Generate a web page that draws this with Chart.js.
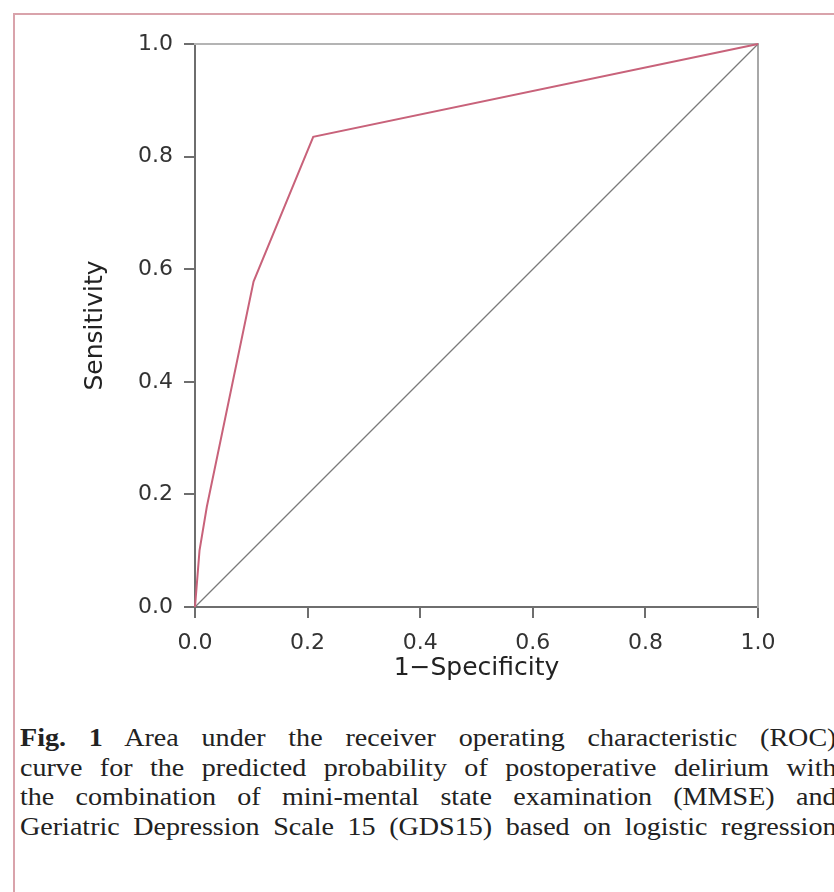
<!DOCTYPE html>
<html>
<head>
<meta charset="utf-8">
<script src="https://cdn.jsdelivr.net/npm/chart.js@4/dist/chart.umd.min.js"></script>
<style>
  html, body { margin: 0; padding: 0; background: #fff; width: 834px; height: 892px; overflow: hidden; }
  #frame { position: absolute; left: 13px; top: 13px; width: 900px; height: 900px; border: 2px solid #d9a3ab; box-sizing: border-box; }
  #wrap { position: absolute; left: 0; top: 0; width: 834px; height: 700px; }
  #caption { position: absolute; left: 20px; top: 723px; width: 756px; transform: scaleX(1.08); transform-origin: 0 0;
             font-family: "Liberation Serif", "Times New Roman", serif; font-size: 26px; line-height: 29.5px; color: #222; }
  #caption div { text-align: justify; text-align-last: justify; white-space: nowrap; }
</style>
</head>
<body>
<div id="frame"></div>
<div id="wrap"><canvas id="c" width="834" height="700"></canvas></div>
<div id="caption">
  <div><b>Fig. 1</b> Area under the receiver operating characteristic (ROC)</div>
  <div>curve for the predicted probability of postoperative delirium with</div>
  <div>the combination of mini-mental state examination (MMSE) and</div>
  <div>Geriatric Depression Scale 15 (GDS15) based on logistic regression</div>
</div>
<script>
// ROC curve (1 - specificity vs sensitivity)
const fpr = [0, 0.008, 0.021, 0.104, 0.21, 1.0];
const tpr = [0, 0.10, 0.178, 0.578, 0.835, 1.0];
// reference (chance) diagonal
const diagX = [0, 1];
const diagY = [0, 1];
// tick labels
const xTicks = ["0.0", "0.2", "0.4", "0.6", "0.8", "1.0"];
const yTicks = ["0.0", "0.2", "0.4", "0.6", "0.8", "1.0"];
const xTitle = "1\u2212Specificity";
const yTitle = "Sensitivity";

const toPts = (xs, ys) => xs.map((x, i) => ({ x: x, y: ys[i] }));
const tickFont = { family: "DejaVu Sans", size: 22 };
const titleFont = { family: "DejaVu Sans", size: 25 };
const axisColor = "#6e6e6e";

new Chart(document.getElementById("c"), {
  type: "scatter",
  data: {
    datasets: [
      { data: toPts(fpr, tpr), showLine: true, borderColor: "#c8627a", borderWidth: 2, pointRadius: 0, tension: 0, clip: 4 },
      { data: toPts(diagX, diagY), showLine: true, borderColor: "#7a7a7a", borderWidth: 1.2, pointRadius: 0, tension: 0, clip: 4 }
    ]
  },
  options: {
    responsive: false,
    animation: false,
    layout: { padding: { left: 0, top: 44, right: 76, bottom: 0 } },
    plugins: { legend: { display: false }, tooltip: { enabled: false } },
    scales: {
      x: {
        type: "linear", position: "bottom", min: 0, max: 1,
        afterFit: s => { s.height = 93; },
        ticks: { stepSize: 0.2, color: "#333", font: tickFont, padding: 12, maxRotation: 0,
                 callback: (v) => { const i = Math.round(v / 0.2); return Math.abs(v - i * 0.2) < 1e-6 ? xTicks[i] : null; } },
        grid: { display: true, drawOnChartArea: false, drawTicks: true, tickLength: 11, color: axisColor, lineWidth: 2 },
        border: { display: true, color: axisColor, width: 2 },
        title: { display: true, text: xTitle, color: "#222", font: titleFont, padding: { top: 0, bottom: 17 } }
      },
      y: {
        type: "linear", position: "left", min: 0, max: 1,
        afterFit: s => { s.width = 195; },
        ticks: { stepSize: 0.2, color: "#333", font: tickFont, padding: 11,
                 callback: (v) => { const i = Math.round(v / 0.2); return Math.abs(v - i * 0.2) < 1e-6 ? yTicks[i] : null; } },
        grid: { display: true, drawOnChartArea: false, drawTicks: true, tickLength: 11, color: axisColor, lineWidth: 2 },
        border: { display: true, color: axisColor, width: 2 },
        title: { display: true, text: yTitle, color: "#222", font: titleFont, padding: { top: 80, bottom: 0 } }
      },
      x2: {
        type: "linear", position: "top", min: 0, max: 1,
        afterFit: s => { s.height = 0; },
        ticks: { display: false }, grid: { display: false },
        border: { display: true, color: "#b4b4b4", width: 2 }
      },
      y2: {
        type: "linear", position: "right", min: 0, max: 1,
        afterFit: s => { s.width = 0; },
        ticks: { display: false }, grid: { display: false },
        border: { display: true, color: "#a8a8a8", width: 2 }
      }
    }
  }
});
</script>
</body>
</html>
